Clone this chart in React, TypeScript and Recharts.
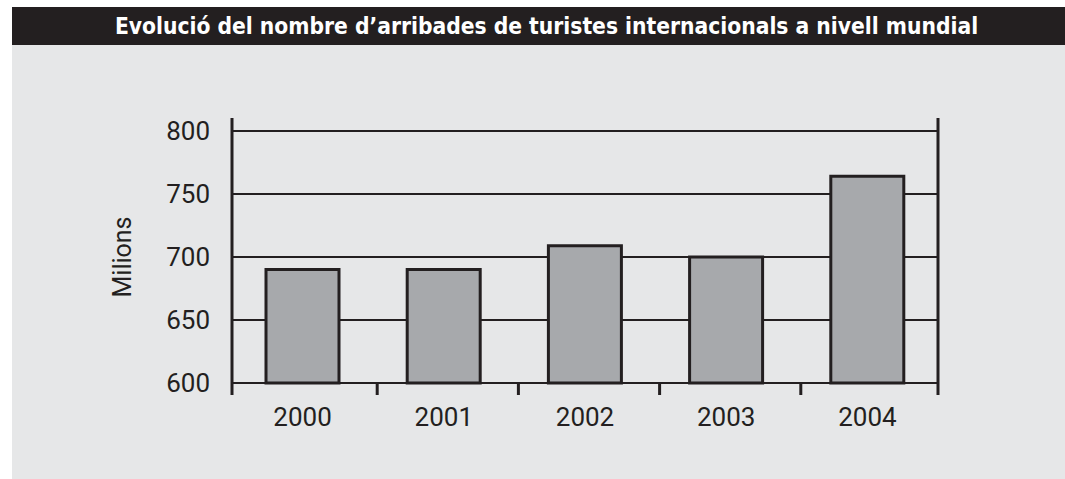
import { BarChart, Bar, XAxis, YAxis, CartesianGrid, usePlotArea } from 'recharts';

const years = ['2000', '2001', '2002', '2003', '2004'];
const arrivals = [690, 690, 709, 700, 764];
const yTicks = [600, 650, 700, 750, 800];

const INK = '#231f20';
const BG = '#e6e7e8';
const BAR = '#a7a9ac';
const FONT = 'Roboto, "DejaVu Sans", sans-serif';

const data = years.map((year, i) => ({ year, value: arrivals[i] }));

// frame lines that run past the plot area, plus boundary ticks on the bottom
function Frame() {
  const plot = usePlotArea();
  if (!plot) return null;
  const { x, y, width, height } = plot;
  const step = width / years.length;
  const top = y - 13;
  const bottom = y + height + 12;
  return (
    <g>
      <line x1={x} x2={x} y1={top} y2={bottom} stroke={INK} strokeWidth={3} />
      <line x1={x + width} x2={x + width} y1={top} y2={bottom} stroke={INK} strokeWidth={3} />
      {years.slice(1).map((_, i) => (
        <line
          key={i}
          x1={x + step * (i + 1) + 4}
          x2={x + step * (i + 1) + 4}
          y1={y + height}
          y2={bottom}
          stroke={INK}
          strokeWidth={3}
        />
      ))}
    </g>
  );
}

export default function App() {
  return (
    <div style={{ position: 'absolute', left: 12, top: 7, width: 1053, height: 472, background: BG }}>
      <div
        style={{
          height: 38,
          background: INK,
          color: '#fff',
          fontFamily: '"DejaVu Sans Condensed", "DejaVu Sans", sans-serif',
          fontWeight: 'bold',
          fontSize: 22.6,
          lineHeight: '38px',
          textAlign: 'center',
          paddingLeft: 16,
        }}
      >
        Evolució del nombre d’arribades de turistes internacionals a nivell mundial
      </div>
      <BarChart
        width={1053}
        height={434}
        data={data}
        margin={{ top: 86, right: 127, bottom: 66, left: 100 }}
      >
        <CartesianGrid vertical={false} stroke={INK} strokeWidth={2} strokeOpacity={1} />
        <XAxis
          dataKey="year"
          axisLine={false}
          tickLine={false}
          tickSize={0}
          tickMargin={25}
          height={30}
          tick={{ fill: INK, fontSize: 26, fontFamily: FONT }}
        />
        <YAxis
          domain={[600, 800]}
          ticks={yTicks}
          axisLine={false}
          tickLine={false}
          tickSize={0}
          tickMargin={22}
          width={120}
          tick={{ fill: INK, fontSize: 26, fontFamily: FONT }}
          label={{
            value: 'Milions',
            angle: -90,
            position: 'insideLeft',
            offset: 10,
            style: { textAnchor: 'middle', fill: INK, fontSize: 25, fontFamily: FONT },
          }}
        />
        <Bar dataKey="value" fill={BAR} stroke={INK} strokeWidth={3} barSize={73} isAnimationActive={false} />
        <Frame />
      </BarChart>
    </div>
  );
}
